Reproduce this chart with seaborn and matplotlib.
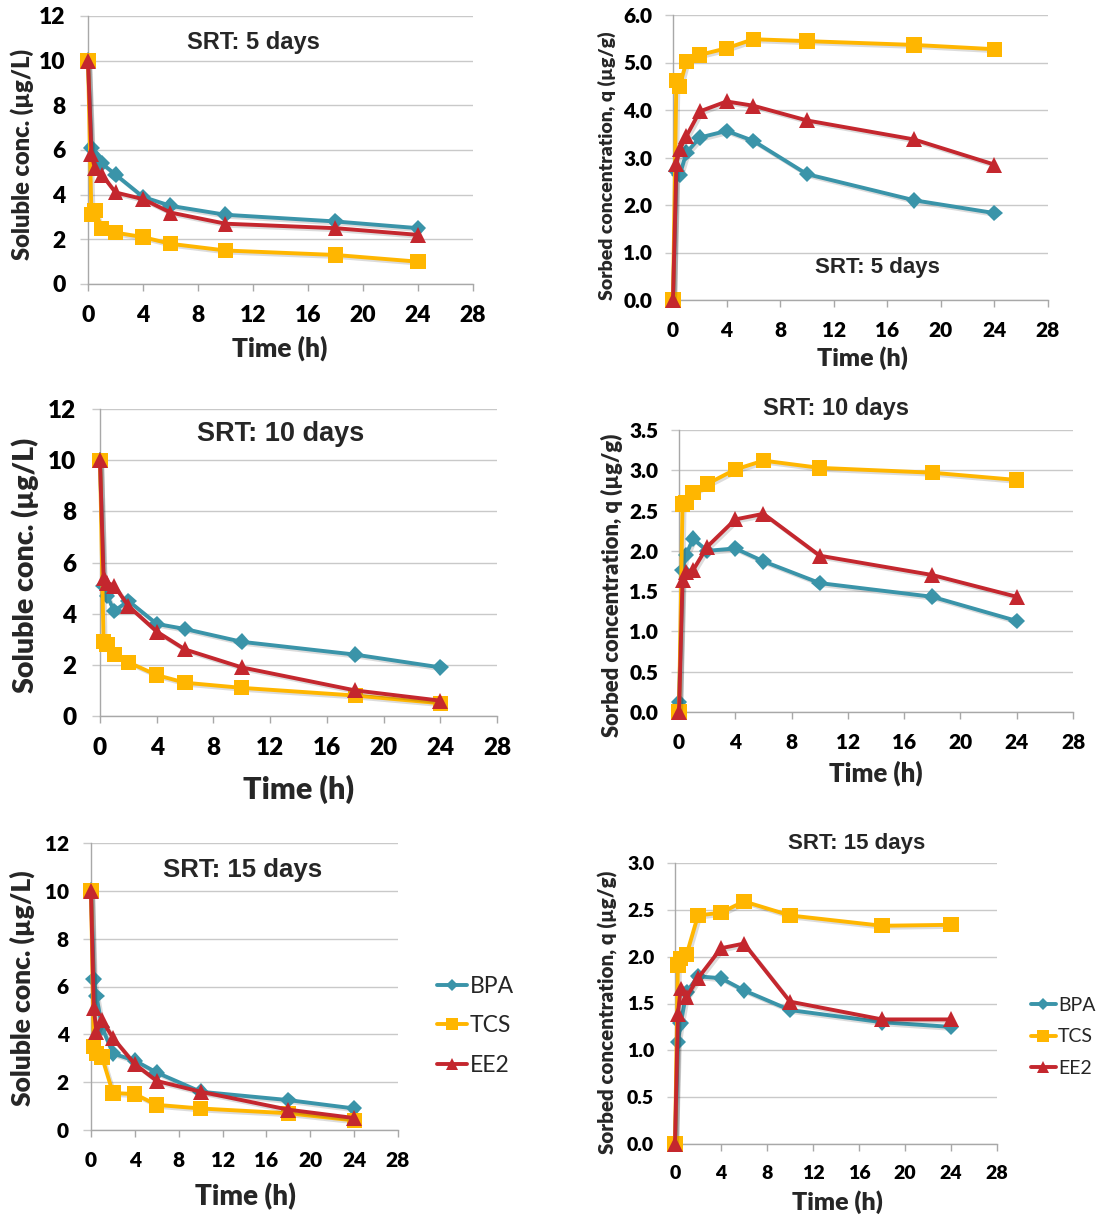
import matplotlib
matplotlib.use("Agg")
import matplotlib.pyplot as plt
import matplotlib.patheffects as pe
from matplotlib.lines import Line2D
from matplotlib.ticker import FormatStrFormatter, MultipleLocator
import pandas as pd
import seaborn as sns

# Sampling times (h)
time_h = [0, 0.25, 0.5, 1, 2, 4, 6, 10, 18, 24]
compounds = ["BPA", "TCS", "EE2"]

# Soluble concentration (ug/L)
sol_srt5_bpa = [10, 6.1, 5.7, 5.4, 4.9, 3.9, 3.5, 3.1, 2.8, 2.5]
sol_srt5_tcs = [10, 3.1, 3.3, 2.5, 2.3, 2.1, 1.8, 1.5, 1.3, 1.0]
sol_srt5_ee2 = [10, 5.8, 5.2, 4.9, 4.1, 3.8, 3.2, 2.7, 2.5, 2.2]

sol_srt10_bpa = [10, 5.1, 4.7, 4.1, 4.5, 3.6, 3.4, 2.9, 2.4, 1.9]
sol_srt10_tcs = [10, 2.9, 2.8, 2.4, 2.1, 1.6, 1.3, 1.1, 0.8, 0.5]
sol_srt10_ee2 = [10, 5.4, 5.2, 5.1, 4.3, 3.3, 2.6, 1.9, 1.0, 0.6]

sol_srt15_bpa = [10, 6.3, 5.6, 4.3, 3.2, 2.9, 2.4, 1.6, 1.25, 0.9]
sol_srt15_tcs = [10, 3.5, 3.2, 3.05, 1.55, 1.5, 1.05, 0.9, 0.7, 0.4]
sol_srt15_ee2 = [10, 5.1, 4.1, 4.6, 3.85, 2.75, 2.05, 1.6, 0.85, 0.5]

# Sorbed concentration q (ug/g)
sorb_srt5_bpa = [0, 2.72, 2.63, 3.10, 3.42, 3.56, 3.35, 2.65, 2.10, 1.83]
sorb_srt5_tcs = [0, 4.62, 4.50, 5.02, 5.16, 5.30, 5.49, 5.45, 5.37, 5.28]
sorb_srt5_ee2 = [0, 2.86, 3.17, 3.45, 3.97, 4.18, 4.09, 3.78, 3.38, 2.85]

sorb_srt10_bpa = [0.12, 1.76, 1.95, 2.15, 2.00, 2.03, 1.87, 1.60, 1.43, 1.13]
sorb_srt10_tcs = [0, 2.58, 2.60, 2.72, 2.83, 3.01, 3.12, 3.03, 2.97, 2.88]
sorb_srt10_ee2 = [0, 1.64, 1.74, 1.76, 2.05, 2.39, 2.46, 1.94, 1.70, 1.43]

sorb_srt15_bpa = [0, 1.09, 1.29, 1.62, 1.79, 1.77, 1.64, 1.43, 1.30, 1.25]
sorb_srt15_tcs = [0, 1.91, 1.98, 2.02, 2.44, 2.47, 2.59, 2.44, 2.33, 2.34]
sorb_srt15_ee2 = [0, 1.39, 1.66, 1.57, 1.77, 2.09, 2.14, 1.52, 1.33, 1.33]

x_ticks = [0, 4, 8, 12, 16, 20, 24, 28]

colors = {"BPA": "#3A94A9", "TCS": "#FFB600", "EE2": "#C4272E"}
markers = {"BPA": "D", "TCS": "s", "EE2": "^"}
msizes = {"BPA": 8.5, "TCS": 11, "EE2": 11.5}

GRID = "#C9C9C9"
SPINE = "#A8A8A8"
TICK_FONT = "Lato"
TITLE_FONT = "Liberation Sans"
HEAVY = "heavy"

sns.set_theme(style="white")
plt.rcParams["font.family"] = ["Lato", "DejaVu Sans"]

W, H = 1102, 1218
fig = plt.figure(figsize=(W / 100, H / 100), dpi=100)
fig.patch.set_facecolor("white")


def make_frame(values):
    b, t, e = values
    return pd.DataFrame({
        "Time": time_h * 3,
        "conc": list(b) + list(t) + list(e),
        "compound": ["BPA"] * len(time_h) + ["TCS"] * len(time_h) + ["EE2"] * len(time_h),
    })


def add_panel(box, values, ymax, ystep, yfmt, tick_fs, ylabel, ylabel_fs, ylabel_xy,
              xlabel_fs, xlabel_xy, title, title_fs, title_xy, ypad, xpad):
    l, t, r, b = box
    ax = fig.add_axes([l / W, 1 - b / H, (r - l) / W, (b - t) / H])
    df = make_frame(values)
    shadow = [pe.SimpleLineShadow(offset=(1.5, -1.5), shadow_color="k", alpha=0.15),
              pe.Normal()]
    for c in compounds:
        sns.lineplot(data=df[df["compound"] == c], x="Time", y="conc", ax=ax,
                     color=colors[c], marker=markers[c], markersize=msizes[c],
                     markeredgewidth=0, linewidth=2.8, legend=False,
                     path_effects=shadow, clip_on=False, zorder=3)
    ax.set_xlim(0, 28)
    ax.set_ylim(0, ymax)
    ax.set_xticks(x_ticks)
    ax.yaxis.set_major_locator(MultipleLocator(ystep))
    ax.yaxis.set_major_formatter(FormatStrFormatter(yfmt))
    ax.grid(axis="y", color=GRID, linewidth=1.0)
    ax.grid(axis="x", visible=False)
    ax.set_axisbelow(True)
    for s in ["top", "right"]:
        ax.spines[s].set_visible(False)
    for s in ["left", "bottom"]:
        ax.spines[s].set_color(SPINE)
        ax.spines[s].set_linewidth(1.0)
    ax.tick_params(axis="y", which="major", direction="out", length=6, width=1,
                   color=GRID, pad=ypad, left=True)
    ax.tick_params(axis="x", which="major", direction="out", length=5, width=1,
                   color=SPINE, pad=xpad, bottom=True)
    for lab in ax.get_xticklabels() + ax.get_yticklabels():
        lab.set_fontfamily(TICK_FONT)
        lab.set_fontweight(HEAVY)
        lab.set_fontsize(tick_fs)
        lab.set_color("black")

    ax.set_xlabel("Time (h)", fontsize=xlabel_fs, fontweight=HEAVY,
                  fontfamily=TICK_FONT, va="center", ha="center")
    ax.xaxis.set_label_coords((xlabel_xy[0] - l) / (r - l), (b - xlabel_xy[1]) / (b - t))
    ax.set_ylabel(ylabel, fontsize=ylabel_fs, fontweight=HEAVY,
                  fontfamily=TICK_FONT, va="center", ha="center")
    ax.yaxis.set_label_coords((ylabel_xy[0] - l) / (r - l), (b - ylabel_xy[1]) / (b - t))
    fig.text(title_xy[0] / W, 1 - title_xy[1] / H, title, fontsize=title_fs,
             fontweight="bold", fontfamily=TITLE_FONT, ha="center", va="center")
    return ax


sol_label = "Soluble conc. (µg/L)"
sorb_label = "Sorbed concentration, q (µg/g)"

add_panel((88, 16, 473, 284), (sol_srt5_bpa, sol_srt5_tcs, sol_srt5_ee2), 12, 2, "%d",
          16.5, sol_label, 17, (22, 155), 19, (280, 348),
          "SRT: 5 days", 17, (253, 42), 10, 10)
add_panel((673, 15, 1048, 300), (sorb_srt5_bpa, sorb_srt5_tcs, sorb_srt5_ee2), 6, 1, "%.1f",
          15, sorb_label, 14, (607, 166), 18, (862, 358),
          "SRT: 5 days", 16, (877, 267), 9, 10)
add_panel((100, 409, 497, 716), (sol_srt10_bpa, sol_srt10_tcs, sol_srt10_ee2), 12, 2, "%d",
          17.5, sol_label, 20.5, (25, 565), 22, (299, 789),
          "SRT: 10 days", 19.5, (281, 434), 11, 10)
add_panel((679, 430, 1073, 712), (sorb_srt10_bpa, sorb_srt10_tcs, sorb_srt10_ee2), 3.5, 0.5, "%.1f",
          15, sorb_label, 15.8, (612, 585), 18.5, (876, 773),
          "SRT: 10 days", 17, (836, 408), 9, 10)
add_panel((91, 843, 398, 1130), (sol_srt15_bpa, sol_srt15_tcs, sol_srt15_ee2), 12, 2, "%d",
          15, sol_label, 19, (22, 988), 20, (245, 1197),
          "SRT: 15 days", 18.5, (243, 870), 10, 10)
add_panel((675, 863, 997, 1144), (sorb_srt15_bpa, sorb_srt15_tcs, sorb_srt15_ee2), 3.0, 0.5, "%.1f",
          14, sorb_label, 14.8, (608, 1012), 18, (837, 1202),
          "SRT: 15 days", 16, (857, 844), 9, 10)

# Legends beside the two bottom panels
handles = [Line2D([], [], color=colors[c], marker=markers[c], markersize=msizes[c] * 0.75,
                  markeredgewidth=0, linewidth=2.8) for c in compounds]
fig.legend(handles, compounds, loc="center left", bbox_to_anchor=(426 / W, 1 - 1026 / H),
           frameon=False, fontsize=16.5, handlelength=1.3, handletextpad=0.1,
           labelspacing=0.8, borderpad=0)
fig.legend(handles, compounds, loc="center left", bbox_to_anchor=(1021 / W, 1 - 1037 / H),
           frameon=False, fontsize=14, handlelength=1.3, handletextpad=0.1,
           labelspacing=0.75, borderpad=0)

fig.savefig("out.png", dpi=100, facecolor="white")
